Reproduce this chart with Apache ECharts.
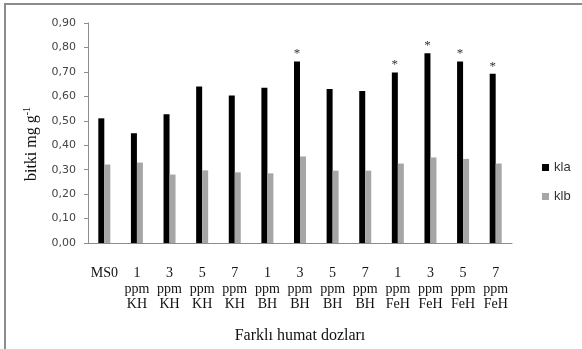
<!DOCTYPE html>
<html>
<head>
<meta charset="utf-8">
<script src="https://cdn.jsdelivr.net/npm/echarts@6/dist/echarts.min.js"></script>
<style>
html,body{margin:0;padding:0;background:#fff;}
#frame{position:absolute;left:4px;top:3px;width:600px;height:400px;border-left:2px solid #8c8c8c;border-top:2px solid #8c8c8c;}
#c{position:absolute;left:0;top:0;width:582px;height:349px;}
</style>
</head>
<body>
<div id="frame"></div>
<div id="c"></div>
<script>
const categories = ['MS0', '1\nppm\nKH', '3\nppm\nKH', '5\nppm\nKH', '7\nppm\nKH', '1\nppm\nBH', '3\nppm\nBH', '5\nppm\nBH', '7\nppm\nBH', '1\nppm\nFeH', '3\nppm\nFeH', '5\nppm\nFeH', '7\nppm\nFeH'];
const kla = [0.51, 0.449, 0.527, 0.640, 0.603, 0.635, 0.743, 0.630, 0.622, 0.698, 0.776, 0.743, 0.692];
const klb = [0.321, 0.329, 0.280, 0.297, 0.289, 0.285, 0.354, 0.296, 0.296, 0.325, 0.350, 0.344, 0.325];
const starred = [false, false, false, false, false, false, true, false, false, true, true, true, true];
const yTicks = [0, 0.1, 0.2, 0.3, 0.4, 0.5, 0.6, 0.7, 0.8, 0.9];

const chart = echarts.init(document.getElementById('c'));
chart.setOption({
  animation: false,
  backgroundColor: 'transparent',
  grid: {left: 88, right: 70, top: 23, bottom: 99},
  legend: {
    orient: 'vertical', left: 537, top: 156, itemWidth: 7, itemHeight: 7, itemGap: 16,
    textStyle: {fontFamily: 'Liberation Sans', fontSize: 13, color: '#333'},
    data: [{name: 'kla', icon: 'rect'}, {name: 'klb', icon: 'rect'}]
  },
  xAxis: {
    type: 'category', data: categories,
    axisLine: {lineStyle: {color: '#8c8c8c', width: 1}},
    axisTick: {show: false},
    axisLabel: {interval: 0, margin: 23, fontFamily: 'Liberation Serif', fontSize: 14, color: '#111', lineHeight: 15.5},
    name: 'Farklı humat dozları', nameLocation: 'middle', nameGap: 85,
    nameTextStyle: {fontFamily: 'Liberation Serif', fontSize: 16, color: '#111'}
  },
  yAxis: {
    type: 'value', min: yTicks[0], max: yTicks[yTicks.length - 1], interval: 0.1,
    splitLine: {show: false},
    axisLine: {show: true, lineStyle: {color: '#8c8c8c'}},
    axisTick: {show: true, length: 4, lineStyle: {color: '#8c8c8c'}},
    axisLabel: {margin: 12, fontFamily: 'DejaVu Sans', fontSize: 11, color: '#444',
      formatter: v => v.toFixed(2).replace('.', ',')},
    name: '{a|bitki mg g}{s|-1}', nameLocation: 'middle', nameGap: 47, nameRotate: 90,
    nameTextStyle: {
      padding: [0, 22, 0, 0],
      rich: {
        a: {fontFamily: 'Liberation Serif', fontSize: 16, color: '#111'},
        s: {fontFamily: 'Liberation Serif', fontSize: 10, color: '#111', verticalAlign: 'top', padding: [0, 0, 9, 0]}
      }
    }
  },
  series: [
    {
      name: 'kla', type: 'bar', data: kla, barWidth: 6, barGap: '0%',
      itemStyle: {color: '#000'},
      label: {show: true, position: 'top', distance: 1, fontFamily: 'Liberation Serif', fontSize: 13, color: '#333',
        formatter: p => starred[p.dataIndex] ? '*' : ''}
    },
    {
      name: 'klb', type: 'bar', data: klb, barWidth: 6, barGap: '0%',
      itemStyle: {color: '#a6a6a6'}
    }
  ]
});
</script>
</body>
</html>
